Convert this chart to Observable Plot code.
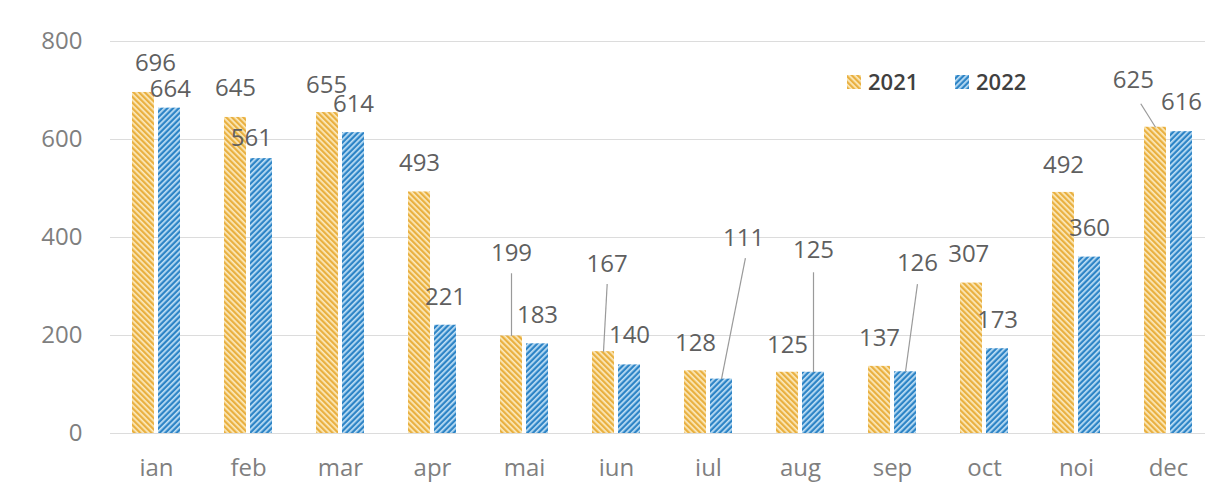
<!DOCTYPE html>
<html>
<head>
<meta charset="utf-8">
<script src="https://cdn.jsdelivr.net/npm/d3@7"></script>
<script src="https://cdn.jsdelivr.net/npm/@observablehq/plot@0.6"></script>
<style>
  html, body { margin: 0; padding: 0; background: #fff; }
  #chart { width: 1205px; height: 485px; overflow: hidden; }
</style>
</head>
<body>
<div id="chart"></div>
<script>
// ---- data ----
const months = ["ian","feb","mar","apr","mai","iun","iul","aug","sep","oct","noi","dec"];
const series = ["2021","2022"];
const values2021 = [696,645,655,493,199,167,128,125,137,307,492,625];
const values2022 = [664,561,614,221,183,140,111,125,126,173,360,616];
const yTicks = [0,200,400,600,800];

// label placement (value units for y, month-step units for x shift)
const labelY2021 = [756,704,711,551,367,345,184,180,194,365,547,720];
const labelY2022 = [703,602,672,278,241,200,398,373,347,231,418,676];
const labelShift2021 = [0.13,0,-0.01,0,0,0.04,0,0,0,-0.03,0,-0.24];
const labelShift2022 = [0.01,-0.11,0,0,0,0,0.24,0,0.13,0,0,0];
// leader lines: [month, series, start x shift from label, start drop below label (value units)]
const leaders = [["mai","2021",0,40],["iun","2021",0,40],["iul","2022",0.02,40],["aug","2022",0,44],["sep","2022",0,42],["dec","2021",0.08,47]];

// ---- layout ----
const BAR_OFF = 0.1413, HALF_W = 0.1196;
const colors = {"2021": "#E9B040", "2022": "#2D84C6"};
const lights = {"2021": "#FCEBC0", "2022": "#C2E1F6"};

const rows = months.flatMap((m, i) => [
  {i, m, s: "2021", v: values2021[i], ly: labelY2021[i], lx: i - BAR_OFF + labelShift2021[i], bx: i - BAR_OFF},
  {i, m, s: "2022", v: values2022[i], ly: labelY2022[i], lx: i + BAR_OFF + labelShift2022[i], bx: i + BAR_OFF}
]);
const find = (m, s) => rows.find(r => r.m === m && r.s === s);
const leaderRows = leaders.map(([m, s, dxs, drop]) => {
  const r = find(m, s);
  return {x1: r.lx + dxs, y1: r.ly - drop, x2: r.bx, y2: r.v};
});

const chart = Plot.plot({
  width: 1205,
  height: 485,
  marginTop: 41,
  marginBottom: 52,
  marginLeft: 110,
  marginRight: 0,
  style: {fontFamily: "'Open Sans', 'Noto Sans', sans-serif", fontSize: "24px", background: "#fff"},
  x: {type: "linear", domain: [-0.5, 11.5], range: [110, 1214]},
  y: {domain: [0, 800]},
  marks: [
    Plot.gridY(yTicks, {stroke: "#dcdcdc", strokeOpacity: 1}),
    ...series.map(s => Plot.rectY(rows.filter(r => r.s === s), {
      x1: r => r.bx - HALF_W, x2: r => r.bx + HALF_W, y: "v",
      fill: `url(#hatch${s})`
    })),
    Plot.link(leaderRows, {x1: "x1", y1: "y1", x2: "x2", y2: "y2", stroke: "#9a9a9a", strokeWidth: 1.2}),
    Plot.text(rows, {x: "lx", y: "ly", text: r => String(r.v), fill: "#5f5f5f", fontSize: 24}),
    Plot.axisY(yTicks, {tickSize: 0, tickPadding: 28, label: null, fill: "#7f7f7f", fontSize: 24}),
    Plot.axisX(d3.range(12), {tickSize: 0, tickPadding: 25, label: null, tickFormat: i => months[i], fill: "#7f7f7f", fontSize: 24})
  ]
});

// hatch patterns
const svg = d3.select(chart);
const defs = svg.insert("defs", ":first-child");
const mkPattern = (id, color, light, angle) => {
  const p = defs.append("pattern").attr("id", id).attr("patternUnits", "userSpaceOnUse")
    .attr("width", 4).attr("height", 4).attr("patternTransform", `rotate(${angle})`);
  p.append("rect").attr("width", 4).attr("height", 4).attr("fill", color);
  p.append("rect").attr("y", 0).attr("width", 4).attr("height", 1.7).attr("fill", light);
};
mkPattern("hatch2021", colors["2021"], lights["2021"], 45);
mkPattern("hatch2022", colors["2022"], lights["2022"], -45);

// legend (inside plot area, top right)
const legend = svg.append("g")
  .attr("font-family", "'Open Sans', 'Noto Sans', sans-serif")
  .attr("font-size", 22).attr("font-weight", 600).attr("text-anchor", "start");
[["2021", 847], ["2022", 955]].forEach(([s, x]) => {
  legend.append("rect").attr("x", x).attr("y", 75).attr("width", 14).attr("height", 14).attr("fill", `url(#hatch${s})`);
  legend.append("text").attr("x", x + 21).attr("y", 82).attr("dy", "0.35em").attr("fill", "#404040").text(s);
});

document.getElementById("chart").appendChild(chart);
</script>
</body>
</html>
